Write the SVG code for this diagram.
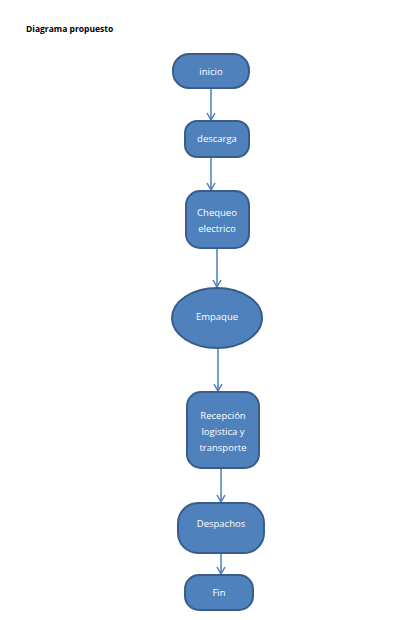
<svg xmlns="http://www.w3.org/2000/svg" width="401" height="620" viewBox="0 0 401 620">
<style>
.n{fill:#4f81bd;stroke:#385d8a;stroke-width:2}
.t{fill:#ffffff;font-family:"Open Sans","Liberation Sans",sans-serif;font-size:9.5px;text-anchor:middle}
.c{stroke:#4a7ebb;stroke-width:1.5;fill:none;marker-end:url(#a)}
</style>
<defs>
<marker id="a" markerWidth="10" markerHeight="10" refX="8" refY="5" orient="auto" markerUnits="userSpaceOnUse">
<path d="M1,1 L8,5 L1,9" fill="none" stroke="#4a7ebb" stroke-width="1.5"/>
</marker>
</defs>
<rect width="401" height="620" fill="#ffffff"/>
<text x="26" y="32" font-family="'Open Sans','Liberation Sans',sans-serif" font-size="8.5" font-weight="bold" fill="#000">Diagrama  propuesto</text>
<g id="connectors">
<line class="c" x1="211" y1="88" x2="211" y2="120"/>
<line class="c" x1="211" y1="157" x2="211" y2="190"/>
<line class="c" x1="217" y1="248" x2="217" y2="287"/>
<line class="c" x1="218" y1="348" x2="218" y2="391"/>
<line class="c" x1="221" y1="468" x2="221" y2="502"/>
<line class="c" x1="221" y1="553" x2="221" y2="574"/>
</g>
<g id="inicio"><rect class="n" x="173" y="54" width="76" height="34" rx="16"/><text class="t" x="211" y="75">inicio</text></g>
<g id="descarga"><rect class="n" x="185" y="121" width="64" height="36" rx="12"/><text class="t" x="217" y="142">descarga</text></g>
<g id="chequeo"><rect class="n" x="186" y="191" width="63" height="57" rx="14"/><text class="t" x="217" y="216">Chequeo</text><text class="t" x="217" y="232">electrico</text></g>
<g id="empaque"><ellipse class="n" cx="217" cy="318" rx="45" ry="30"/><text class="t" x="217" y="320">Empaque</text></g>
<g id="recepcion"><rect class="n" x="187" y="392" width="72" height="76" rx="14"/><text class="t" x="223" y="419">Recepción</text><text class="t" x="223" y="435">logistica y</text><text class="t" x="223" y="451">transporte</text></g>
<g id="despachos"><rect class="n" x="178" y="503" width="86" height="50" rx="20"/><text class="t" x="221" y="527">Despachos</text></g>
<g id="fin"><rect class="n" x="185" y="575" width="68" height="35" rx="14"/><text class="t" x="219" y="596">Fin</text></g>
</svg>
